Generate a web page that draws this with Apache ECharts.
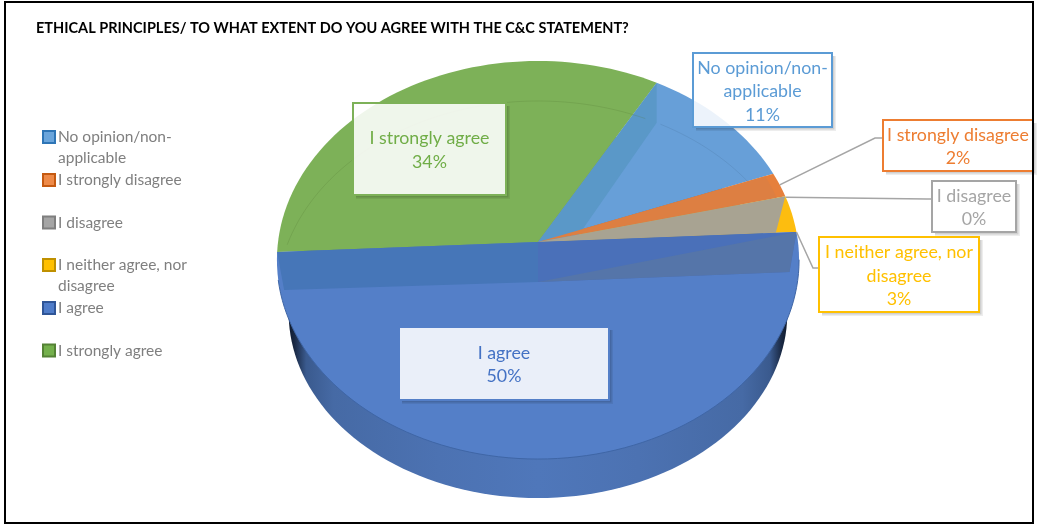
<!DOCTYPE html>
<html><head><meta charset="utf-8">
<style>html,body{margin:0;padding:0;background:#fff}#c{width:1038px;height:526px}</style>
<script src="https://cdn.jsdelivr.net/npm/echarts@6/dist/echarts.min.js"></script>
</head><body><div id="c"></div>
<script>
const titleText = 'ETHICAL PRINCIPLES/ TO WHAT EXTENT DO YOU AGREE WITH THE C&C STATEMENT?';
const categories = ['No opinion/non-applicable','I strongly disagree','I disagree','I neither agree, nor disagree','I agree','I strongly agree'];
const values = [11, 2, 0, 3, 50, 34];
const legendLines = ['No opinion/non-\napplicable','I strongly disagree','I disagree','I neither agree, nor\ndisagree','I agree','I strongly agree'];
const labelLines = ['No opinion/non-\napplicable\n11%','I strongly disagree\n2%','I disagree\n0%','I neither agree, nor\ndisagree\n3%','I agree\n50%','I strongly agree\n34%'];

const sliceColors = ['#679fd8','#e6803c','#a8a392','#fdbd0f','#547fc8','#7db158'];
const legendInner = ['#6aa5dc','#ee8a48','#a5a5a5','#ffc000','#4f7cc9','#74b04c'];
const legendBorder = ['#2e75b6','#c55a11','#7f7f7f','#bf9000','#2f5597','#548235'];
const textColors = ['#5b9bd5','#ed7d31','#a5a5a5','#ffc000','#4472c4','#70ad47'];
const boxColors = ['#5b9bd5','#ed7d31','#a5a5a5','#ffc000','#547fc8','#7db158'];
const boxes = [[693,53,139,74],[883,120,150,51],[932,181,84,51],[819,237,160,75],[399,327,210,73],[353,103,153,92]];
const leaders = [null,[[875,138],[883,138]],[[927,199],[932,199]],[[813,268],[819,268]],null,null];

const FONT = 'Lato';
const cx = 538, cy = 242, A = 260, B = 197.4, K = 0.0905, DEPTH = 40;
const START = 29.5;
const total = values.reduce((a,b)=>a+b,0);
const rad = d => d*Math.PI/180;
function rim(t, s){ s = s==null?1:s;
  const u=Math.sin(rad(t)), v=Math.cos(rad(t)), d=1+K*v;
  return [cx+s*A*u/d, cy-s*B*v/d];
}
function arc(t0,t1,s){ const out=[]; const n=Math.max(2,Math.ceil(Math.abs(t1-t0)/2));
  for(let i=0;i<=n;i++) out.push(rim(t0+(t1-t0)*i/n,s)); return out; }
const down = p => [p[0],p[1]+DEPTH];
const ELL = {top:61,bot:459};
const ecy = (ELL.top+ELL.bot)/2;
function baseEllipse(){ const pts=[]; for(let t=0;t<360;t+=2){const p=rim(t);
  pts.push([cx+(p[0]-cx)*0.955, ecy+(p[1]-ecy)*0.93+(498-ecy-(ELL.bot-ecy)*0.93)]);} return pts; }
const cum = i => START + values.slice(0,i).reduce((a,b)=>a+b,0)/total*360;
const poly = (points,fill,z2) => ({type:'polygon',shape:{points},style:{fill},z2,silent:true});
const line = (points,stroke,w,z2) => ({type:'polyline',shape:{points},style:{stroke,lineWidth:w,fill:null},z2,silent:true});

function render(i){ return function(params, api){
  const v = api.value(0), a0 = cum(i), a1 = a0 + v/total*360, ch=[];
  if(i===4){
    ch.push(poly(baseEllipse(),new echarts.graphic.LinearGradient(0,0,1,0,[
      {offset:0,color:'#0f1a2e'},{offset:.012,color:'#1a2944'},{offset:.035,color:'#3a5a8e'},{offset:.09,color:'#466aa5'},{offset:.3,color:'#4c72b2'},
      {offset:.5,color:'#4f77ba'},{offset:.7,color:'#4c72b2'},{offset:.91,color:'#466aa5'},{offset:.965,color:'#3a5a8e'},{offset:.988,color:'#1a2944'},{offset:1,color:'#0f1a2e'}]),1));
  }
  if(v>0){
    ch.push(poly([[cx,cy]].concat(arc(a0,a1)),sliceColors[i],2));
  }
  if(i===4){
    ch.push(line(arc(a0+8,a1-8),'#3f66a6',1,3));
    const apexD=down([cx,cy]);
    const L0=rim(a1), L1=down(rim(a1)); L1[0]+=7; L1[1]-=2;
    const R0=rim(a0), R1=down(rim(a0)); R1[0]-=7;
    ch.push(poly([[cx,cy],L0,L1,apexD],'#4676b8',3));
    ch.push(poly([[cx,cy],R0,R1,apexD],'#4a70b9',3));
    ch.push(poly([apexD,R0,R1],'#5575a9',3));
  }
  if(i===0){
    const P=rim(a0), Q=down(P);
    const E=[578, 236];
    ch.push(poly([[cx,cy],P,Q,E],'#5a98c8',3));
    ch.push(line(arc(a0+1,a1-8).map(down),'rgba(70,110,150,.22)',1,3));
  }
  if(i===5){
    ch.push(line(arc(a0+6,a1-3).map(down).filter(p=>p[1]<250),'rgba(80,120,50,.22)',1,3));
  }
  if(i===1){
    ch.push(poly([[cx,cy]].concat(arc(a0,a1,0.965)),'#dd7f42',3));
  }
  if(i===2){
    const next=cum(3)+values[3]/total*360;
    ch.push(poly([[cx,cy],rim(a0),rim(next,0.92)],sliceColors[2],3));
  }
  if(leaders[i]){
    const from = i===2?a0+0.3:(i===3?a1:(a0+a1)/2);
    ch.push(line([rim(from)].concat(leaders[i]),'#a5a5a5',1.5,4));
  }
  const b=boxes[i];
  const r=b[0]+b[2], m=b[1]+b[3];
  ch.push(line([[r+2,b[1]+3],[r+2,m+2],[b[0]+3,m+2]],'rgba(0,0,0,.07)',4,5));
  ch.push(line([[r+1.5,b[1]+3],[r+1.5,m+1.5],[b[0]+3,m+1.5]],'rgba(0,0,0,.12)',2,5));
  ch.push({type:'rect',shape:{x:b[0],y:b[1],width:b[2],height:b[3]},z2:6,silent:true,
    style:{fill:'rgba(255,255,255,.88)',stroke:boxColors[i],lineWidth:2}});
  ch.push({type:'text',z2:7,silent:true,style:{text:labelLines[i],x:b[0]+b[2]/2,y:b[1]+b[3]/2+1.5,align:'center',verticalAlign:'middle',
    fill:textColors[i],font:'17.8px '+FONT,lineHeight:23.5}});
  return {type:'group',children:ch};
};}

const ICON_Y = [137,180,222.5,265,308,350.5];
const chart = echarts.init(document.getElementById('c'),null,{renderer:'canvas'});
chart.setOption({
  animation:false,
  backgroundColor:'#fff',
  title:{text:titleText,left:36,top:21,padding:0,textStyle:{fontFamily:FONT,fontSize:14.5,fontWeight:'bold',color:'#000'}},
  legend:categories.map((c,i)=>{
    const two=legendLines[i].includes('\n');
    const h=two?63:21;
    return {
    show:true,orient:'vertical',left:42,top:ICON_Y[i]-h/2,padding:0,itemWidth:12,itemHeight:12,itemGap:0,selectedMode:false,
    formatter:()=>(two?' \n':'')+legendLines[i],
    textStyle:{fontFamily:FONT,fontSize:15.5,color:'#7f7f7f',lineHeight:21,padding:[0,0,0,-2]},
    data:[{name:c,icon:'rect',itemStyle:{color:legendInner[i],borderColor:legendBorder[i],borderWidth:2}}]
  };}),
  graphic:[{type:'rect',shape:{x:5,y:2,width:1028,height:521},style:{fill:null,stroke:'#000',lineWidth:2},z:100,silent:true}],
  series:categories.map((c,i)=>({type:'custom',name:c,coordinateSystem:'none',renderItem:render(i),data:[[values[i]]],itemStyle:{color:sliceColors[i]},silent:true}))
});
</script></body></html>
